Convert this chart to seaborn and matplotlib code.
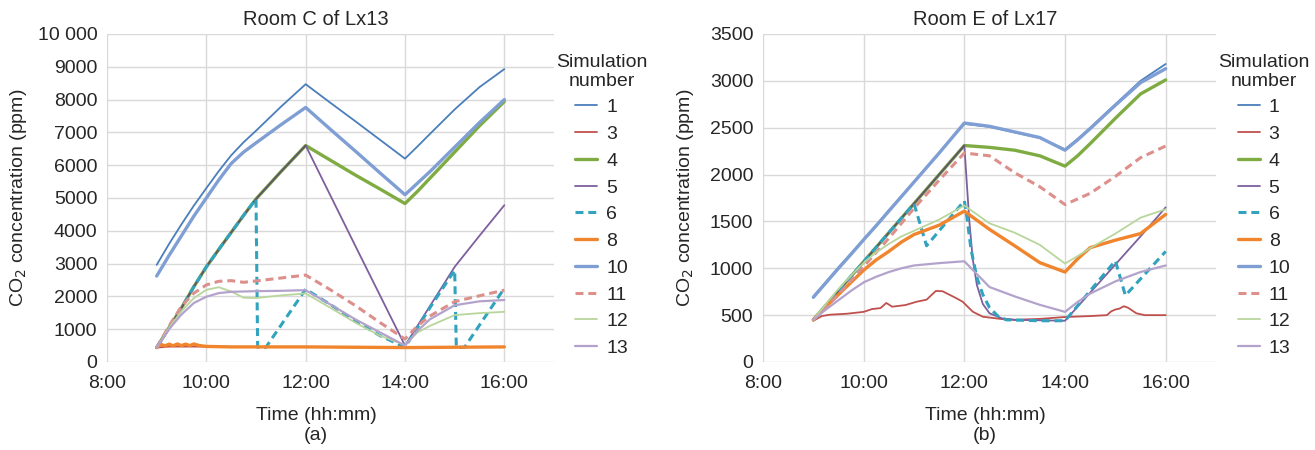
import numpy as np
import pandas as pd
import seaborn as sns
import matplotlib.pyplot as plt

# common half/quarter-hour grid used by most series
TIME = ["9:00", "9:15", "9:30", "9:45", "10:00", "10:15", "10:30", "10:45", "11:00", "11:30",
        "12:00", "12:30", "13:00", "13:30", "14:00", "14:15", "14:30", "15:00", "15:30", "16:00"]

SIMS = ["1", "3", "4", "5", "6", "8", "10", "11", "12", "13"]

# ---- Room C of Lx13 ----
LX13_S1 = [2960, 3600, 4200, 4770, 5300, 5820, 6300, 6700, 7050, 7780,
           8470, 7900, 7340, 6770, 6200, 6570, 6950, 7700, 8380, 8930]
LX13_S3 = [440, 470, 470, 470, 470, 465, 460, 460, 460, 460,
           460, 455, 450, 450, 440, 445, 450, 455, 460, 460]
LX13_S4 = [440, 1050, 1650, 2300, 2900, 3430, 3950, 4470, 4970, 5800,
           6600, 6150, 5700, 5270, 4830, 5200, 5600, 6400, 7200, 7940]
LX13_S5 = [440, 1050, 1650, 2300, 2900, 3430, 3950, 4470, 4970, 5800,
           6600, 5070, 3540, 2020, 500, 1100, 1700, 2900, 3850, 4780]
LX13_S10 = [2620, 3250, 3850, 4450, 5000, 5550, 6050, 6400, 6680, 7230,
            7760, 7090, 6430, 5760, 5100, 5450, 5800, 6550, 7300, 8000]
LX13_S11 = [440, 1100, 1700, 2100, 2350, 2460, 2480, 2430, 2470, 2560,
            2650, 2200, 1720, 1200, 700, 1100, 1400, 1840, 2020, 2190]
LX13_S12 = [440, 1050, 1550, 1950, 2200, 2280, 2150, 1960, 1950, 2030,
            2090, 1650, 1200, 800, 520, 900, 1100, 1430, 1490, 1530]
LX13_S13 = [440, 1000, 1450, 1800, 1990, 2100, 2140, 2150, 2160, 2170,
            2190, 1750, 1300, 900, 500, 950, 1300, 1730, 1850, 1890]

LX13_S6_TIME = ["9:00", "9:15", "9:30", "9:45", "10:00", "10:15", "10:30", "10:45", "11:00",
                "11:02", "11:12", "12:00", "12:30", "13:00", "13:30", "14:00", "14:15",
                "14:30", "15:00", "15:02", "15:12", "16:00"]
LX13_S6 = [440, 1050, 1650, 2300, 2900, 3430, 3950, 4470, 4970,
           450, 450, 2220, 1750, 1250, 800, 450, 1050,
           1650, 2800, 450, 450, 2250]

LX13_S8_TIME = ["9:00", "9:05", "9:10", "9:15", "9:20", "9:25", "9:30", "9:35", "9:40",
                "9:45", "9:50", "9:55", "10:00", "10:30", "12:00", "14:00", "16:00"]
LX13_S8 = [440, 540, 490, 545, 495, 550, 500, 545, 500,
           550, 510, 490, 475, 460, 460, 440, 460]

# path shared by several runs before they split (drawn dark grey)
LX13_SHARED_TIME = TIME[:11]
LX13_SHARED = LX13_S4[:11]

# ---- Room E of Lx17 ----
LX17_S1 = [700, 855, 1010, 1160, 1310, 1460, 1620, 1770, 1925, 2230,
           2540, 2510, 2450, 2390, 2270, 2380, 2500, 2750, 3000, 3180]
LX17_S4 = [450, 605, 760, 915, 1070, 1225, 1380, 1535, 1690, 2000,
           2310, 2290, 2260, 2200, 2090, 2200, 2330, 2600, 2860, 3010]
LX17_S8 = [450, 590, 720, 850, 980, 1090, 1180, 1280, 1360, 1460,
           1610, 1415, 1240, 1060, 960, 1100, 1220, 1300, 1370, 1575]
LX17_S10 = [690, 845, 1000, 1150, 1305, 1455, 1610, 1765, 1920, 2230,
            2550, 2515, 2455, 2395, 2260, 2370, 2490, 2740, 2980, 3130]
LX17_S11 = [450, 580, 720, 870, 1020, 1170, 1320, 1480, 1640, 1940,
            2230, 2200, 2020, 1870, 1680, 1740, 1800, 1980, 2180, 2305]
LX17_S12 = [450, 620, 780, 920, 1060, 1170, 1260, 1340, 1400, 1520,
            1670, 1480, 1380, 1250, 1050, 1130, 1215, 1370, 1540, 1630]
LX17_S13 = [450, 560, 660, 760, 850, 910, 960, 1000, 1030, 1055,
            1075, 800, 700, 610, 535, 640, 730, 860, 960, 1030]

LX17_S3_TIME = ["9:00", "9:10", "9:20", "9:40", "10:00", "10:10", "10:20", "10:27", "10:34",
                "10:50", "11:03", "11:15", "11:26", "11:34", "11:50", "11:58", "12:10",
                "12:22", "12:45", "13:00", "13:30", "14:00", "14:30", "14:50", "14:55",
                "15:00", "15:05", "15:10", "15:15", "15:25", "15:35", "16:00"]
LX17_S3 = [440, 490, 505, 515, 535, 565, 575, 630, 590,
           608, 643, 665, 758, 755, 683, 643, 537,
           483, 458, 450, 460, 480, 490, 500, 540,
           560, 570, 595, 580, 520, 500, 500]

LX17_S5_TIME = ["9:00", "9:30", "10:00", "10:30", "11:00", "11:30", "12:00", "12:03", "12:06",
                "12:10", "12:15", "12:22", "12:30", "12:45", "13:00", "13:30", "14:00",
                "14:30", "15:00", "15:30", "16:00"]
LX17_S5 = [450, 760, 1070, 1380, 1690, 2000, 2310, 1900, 1500,
           1100, 820, 620, 520, 465, 450, 445, 440,
           740, 1040, 1340, 1650]

LX17_S6_TIME = ["9:00", "9:30", "10:00", "10:30", "11:00", "11:15", "12:00", "12:03", "12:08",
                "12:15", "12:22", "12:30", "12:40", "12:50", "13:30", "14:00", "15:00",
                "15:12", "16:00"]
LX17_S6 = [450, 760, 1070, 1380, 1690, 1240, 1720, 1550, 1200,
           900, 720, 580, 490, 450, 440, 440, 1080,
           710, 1180]

LX17_SHARED_TIME = TIME[:11]
LX17_SHARED = LX17_S4[:11]

STYLE = {
    "1": dict(color="#4a7ebb", lw=1.3, ls="-"),
    "3": dict(color="#c0504d", lw=1.3, ls="-"),
    "4": dict(color="#7fac42", lw=2.4, ls="-"),
    "5": dict(color="#7d5f9e", lw=1.3, ls="-"),
    "6": dict(color="#31a3bf", lw=2.2, ls=(0, (2.6, 1.6))),
    "8": dict(color="#f0852d", lw=2.4, ls="-"),
    "10": dict(color="#7f9fd4", lw=2.4, ls="-"),
    "11": dict(color="#dd8f8c", lw=2.2, ls=(0, (2.6, 1.6))),
    "12": dict(color="#b8d69c", lw=1.3, ls="-"),
    "13": dict(color="#b3a3cc", lw=1.6, ls="-"),
}


def hours(ts):
    out = []
    for t in ts:
        h, m = t.split(":")
        out.append(int(h) + int(m) / 60)
    return out


def to_frame(series):
    rows = []
    for sim, (ts, vals) in series.items():
        for t, v in zip(hours(ts), vals):
            rows.append((sim, t, v))
    return pd.DataFrame(rows, columns=["sim", "time", "co2"])


lx13 = to_frame({
    "1": (TIME, LX13_S1), "3": (TIME, LX13_S3), "4": (TIME, LX13_S4), "5": (TIME, LX13_S5),
    "shared": (LX13_SHARED_TIME, LX13_SHARED),
    "6": (LX13_S6_TIME, LX13_S6), "8": (LX13_S8_TIME, LX13_S8), "10": (TIME, LX13_S10),
    "11": (TIME, LX13_S11), "12": (TIME, LX13_S12), "13": (TIME, LX13_S13),
})
lx17 = to_frame({
    "1": (TIME, LX17_S1), "3": (LX17_S3_TIME, LX17_S3), "4": (TIME, LX17_S4),
    "5": (LX17_S5_TIME, LX17_S5), "shared": (LX17_SHARED_TIME, LX17_SHARED),
    "6": (LX17_S6_TIME, LX17_S6), "8": (TIME, LX17_S8), "10": (TIME, LX17_S10),
    "11": (TIME, LX17_S11), "12": (TIME, LX17_S12), "13": (TIME, LX17_S13),
})

sns.set_style("white")
plt.rcParams["font.family"] = ["Liberation Sans", "DejaVu Sans"]
GRID = "#d9d9d9"
FS = 14

fig = plt.figure(figsize=(13.15, 4.5), dpi=100)
ax1 = fig.add_axes([107 / 1315, 88 / 450, 447 / 1315, 328 / 450])
ax2 = fig.add_axes([763 / 1315, 88 / 450, 453 / 1315, 328 / 450])


def draw(ax, df, title, ymax, ystep, ylabels, tag, tx, ylx):
    for sim in ["1", "3", "4", "5", "shared", "6", "8", "10", "11", "12", "13"]:
        sub = df[df["sim"] == sim]
        if sim == "shared":
            sns.lineplot(data=sub, x="time", y="co2", ax=ax, color="#5a5a5a", lw=1.1,
                         estimator=None, legend=False)
            continue
        st = STYLE[sim]
        sns.lineplot(data=sub, x="time", y="co2", ax=ax, color=st["color"], lw=st["lw"],
                     linestyle=st["ls"], estimator=None, label=sim)

    ax.set_xlim(8, 17)
    ax.set_ylim(0, ymax)
    ax.set_xticks([8, 10, 12, 14, 16])
    ax.set_xticklabels(["8:00", "10:00", "12:00", "14:00", "16:00"])
    ax.set_yticks(np.arange(0, ymax + 1, ystep))
    ax.set_yticklabels(ylabels)
    ax.grid(True, color=GRID, lw=1)
    for s in ax.spines.values():
        s.set_visible(False)
    ax.tick_params(axis="both", length=4, color=GRID, labelsize=FS)
    ax.tick_params(axis="x", pad=5)
    ax.tick_params(axis="y", pad=3)
    ax.set_title(title, fontsize=14.5, x=tx, y=1.043, va="center", pad=0)
    ax.set_xlabel("Time (hh:mm)", fontsize=FS, va="center")
    ax.xaxis.set_label_coords(tx, -0.162)
    ax.set_ylabel("CO$_2$ concentration (ppm)", fontsize=FS, va="center")
    ax.yaxis.set_label_coords(ylx, 0.5)
    ax.text(tx, -0.225, tag, transform=ax.transAxes, ha="center", va="center", fontsize=FS)

    leg = ax.legend(title="Simulation\nnumber", loc="upper center", bbox_to_anchor=(1.106, 0.962),
                    frameon=False, fontsize=FS, title_fontsize=FS, handlelength=1.15,
                    handletextpad=0.45, labelspacing=0.47, borderaxespad=0)
    leg.get_title().set_multialignment("center")
    leg.get_title().set_linespacing(1.1)


draw(ax1, lx13, "Room C of Lx13", 10000, 1000,
     ["0", "1000", "2000", "3000", "4000", "5000", "6000", "7000", "8000", "9000", "10 000"],
     "(a)", 0.468, -0.197)
draw(ax2, lx17, "Room E of Lx17", 3500, 500,
     ["0", "500", "1000", "1500", "2000", "2500", "3000", "3500"],
     "(b)", 0.49, -0.171)

fig.savefig("out.png", dpi=100)
